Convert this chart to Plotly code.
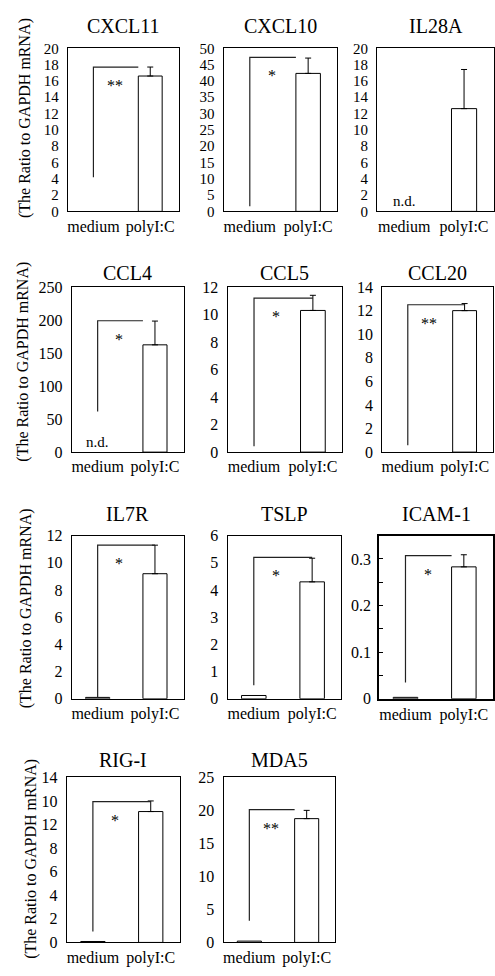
import plotly.graph_objects as go

# ---------------- data ----------------
genes = ["CXCL11", "CXCL10", "IL28A", "CCL4", "CCL5", "CCL20",
         "IL7R", "TSLP", "ICAM-1", "RIG-I", "MDA5"]
conditions = ["medium", "polyI:C"]
medium_vals = [0, 0, None, None, 0, 0, 0.1, 0.12, 0.003, 0.08, 0.2]   # None = n.d.
polyic_vals = [16.6, 42.3, 12.6, 162.5, 10.3, 12.0, 9.2, 4.3, 0.283, 11.1, 18.75]
polyic_err = [1.1, 4.7, 4.8, 36.0, 1.1, 0.6, 2.1, 0.87, 0.026, 0.9, 1.25]
y_max = [20, 50, 20, 250, 12, 14, 12, 6, 0.35, 14, 25]
y_dtick = [2, 5, 2, 50, 2, 2, 2, 1, 0.1, 2, 5]
bracket_top = [17.7, 47.2, None, 199, 11.2, 12.5, 11.3, 5.2, 0.307, 11.95, 20.1]
bracket_bottom = [4.2, 1.6, None, 61.5, 0.43, 0.58, 0.1, 0.5, 0.035, 0.93, 3.3]
stars = ["**", "*", "", "*", "*", "**", "*", "*", "*", "*", "**"]
# RIG-I panel tick labels as printed in the source figure
rigi_ticktext = ["0", "2", "4", "6", "8", "12", "10", "14"]
y_label = "(The Ratio to GAPDH mRNA)"

# ---------------- layout (pixels) ----------------
W, H = 495, 976
frames = [
    (67, 178, 41, 207), (223, 337, 41, 207), (377, 494, 41, 207),
    (71, 183, 284, 452), (227, 342, 284, 452), (382, 493, 284, 452),
    (71, 183, 537, 703), (227, 341, 537, 703), (379, 493, 537, 703),
    (66, 179, 783, 951), (223, 335, 783, 951),
]
bracket_end = ["edge", "edge", None, "edge", "center", "center",
               "center", "center", "edge", "center", "edge"]
row_title_y = [18, 270, 515, 765]
row_label = [(24, 112), (22, 360), (25, 611), (30, 866)]

FONT = "Liberation Serif, Times New Roman, DejaVu Serif, serif"
BW = 0.42

fig = go.Figure()
layout = dict(
    width=W, height=H, margin=dict(l=0, r=0, t=0, b=0),
    paper_bgcolor="white", plot_bgcolor="white", showlegend=False,
    font=dict(family=FONT, color="black"),
    annotations=[], shapes=[],
)

for i, g in enumerate(genes):
    n = i + 1
    xa = "x" if n == 1 else f"x{n}"
    ya = "y" if n == 1 else f"y{n}"
    x0, x1, yt, yb = frames[i]
    row = i // 3

    # medium bar (n.d. -> text label, zero -> nothing visible)
    if medium_vals[i] is None:
        layout["annotations"].append(dict(
            x=0, y=0, xref=xa, yref=ya, text="n.d.", showarrow=False,
            yanchor="bottom", yshift=0, font=dict(size=15, family=FONT)))
    elif medium_vals[i] > 0:
        fig.add_trace(go.Bar(x=[0], y=[medium_vals[i]], width=BW, xaxis=xa, yaxis=ya,
                             marker=dict(color="white", line=dict(color="black", width=1))))
    # polyI:C bar with upper error
    fig.add_trace(go.Bar(x=[1], y=[polyic_vals[i]], width=BW, xaxis=xa, yaxis=ya,
                         marker=dict(color="white", line=dict(color="black", width=1)),
                         error_y=dict(type="data", symmetric=False, array=[polyic_err[i]],
                                      arrayminus=[0], color="black", thickness=1, width=3)))

    tickvals = [k * y_dtick[i] for k in range(int(round(y_max[i] / y_dtick[i])) + 1)]
    if g == "ICAM-1":
        tickvals = [0, 0.1, 0.2, 0.3]
        ticktext = ["0", "0.1", "0.2", "0.3"]
    elif g == "RIG-I":
        ticktext = rigi_ticktext
    else:
        ticktext = [f"{v:g}" for v in tickvals]

    xkey = "xaxis" if n == 1 else f"xaxis{n}"
    ykey = "yaxis" if n == 1 else f"yaxis{n}"
    layout[xkey] = dict(
        domain=[x0 / W, x1 / W], anchor=ya, range=[-0.45, 1.5],
        tickvals=[0, 1], ticktext=conditions, showgrid=False, zeroline=False,
        showline=True, mirror=True, linecolor="black",
        linewidth=2 if g == "ICAM-1" else 1.3,
        ticks="", tickfont=dict(size=16, family=FONT, color="black"),
        fixedrange=True,
    )
    ydict = dict(
        domain=[1 - yb / H, 1 - yt / H], anchor=xa, range=[0, y_max[i]],
        tickvals=tickvals, ticktext=ticktext, showgrid=False, zeroline=False,
        showline=True, mirror=True, linecolor="black",
        linewidth=2 if g == "ICAM-1" else 1.3,
        tickfont=dict(size=15 if row == 0 else 16, family=FONT, color="black"),
        ticks="", ticklabelstandoff=5, fixedrange=True,
    )
    if g == "ICAM-1":
        ydict.update(ticks="inside", ticklen=4, tickcolor="black", tickwidth=1,
                     ticklabelstandoff=3,
                     minor=dict(dtick=0.05, ticks="inside", ticklen=4,
                                tickcolor="black", tickwidth=1))
    layout[ykey] = ydict

    # title
    layout["annotations"].append(dict(
        x=(x0 + x1) / 2 / W, y=1 - row_title_y[row] / H, xref="paper", yref="paper",
        text=g, showarrow=False, xanchor="center", yanchor="middle",
        font=dict(size=20, family=FONT)))

    # significance bracket
    if bracket_top[i] is not None:
        xe = 1 - BW / 2 if bracket_end[i] == "edge" else 1
        layout["shapes"].append(dict(
            type="path", xref=xa, yref=ya,
            path=f"M 0,{bracket_bottom[i]} L 0,{bracket_top[i]} L {xe},{bracket_top[i]}",
            line=dict(color="#222", width=1.2)))
        layout["annotations"].append(dict(
            x=0.38, y=bracket_top[i], xref=xa, yref=ya, text=stars[i], showarrow=False,
            xanchor="center", yanchor="top", yshift=-8,
            font=dict(size=16, family=FONT, color="black")))

# y-axis labels (one per row)
for (lx, ly) in row_label:
    layout["annotations"].append(dict(
        x=lx / W, y=1 - ly / H, xref="paper", yref="paper", text=y_label,
        showarrow=False, textangle=-90, xanchor="center", yanchor="middle",
        font=dict(size=16, family=FONT)))

fig.update_layout(**layout)
fig.write_html("out.html", config={"displayModeBar": False},
               post_script="document.body.style.margin='0';document.body.style.overflow='hidden';")
